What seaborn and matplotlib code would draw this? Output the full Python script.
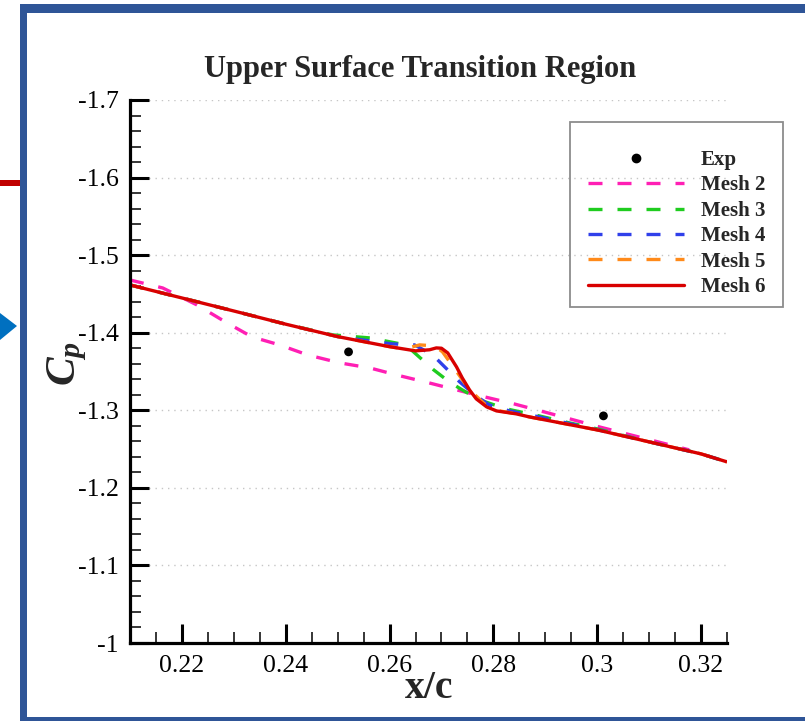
import numpy as np
import pandas as pd
import matplotlib
matplotlib.use("Agg")
import matplotlib.pyplot as plt
import seaborn as sns
from matplotlib.ticker import MultipleLocator
from matplotlib.patches import Rectangle, Polygon
from matplotlib.lines import Line2D

# ---------------- data ----------------
x_exp = [0.2521, 0.3012]
y_exp = [-1.3753, -1.2928]

x_mesh2 = [0.210, 0.2163, 0.2229, 0.2287, 0.2335, 0.2388, 0.2442, 0.2504, 0.2562, 0.2613,
           0.2672, 0.2729, 0.2783, 0.2840, 0.2898, 0.3004, 0.3117, 0.3177]
y_mesh2 = [-1.468, -1.4577, -1.4358, -1.4126, -1.3946, -1.3843, -1.3714, -1.3611, -1.3546, -1.3456,
           -1.3360, -1.3263, -1.3173, -1.3082, -1.2979, -1.2786, -1.2593, -1.2490]

x_mesh3 = [0.210, 0.220, 0.230, 0.240, 0.249, 0.2562, 0.2631, 0.2685, 0.2715, 0.2740,
           0.2773, 0.2825, 0.2888, 0.2946, 0.300, 0.310, 0.320, 0.325]
y_mesh3 = [-1.4616, -1.4448, -1.428, -1.411, -1.3972, -1.3933, -1.3843, -1.3521, -1.3366, -1.3263,
           -1.3134, -1.3018, -1.2928, -1.2838, -1.2760, -1.2593, -1.2438, -1.2335]

x_mesh4 = [0.210, 0.220, 0.230, 0.240, 0.250, 0.2604, 0.2648, 0.2683, 0.2710, 0.2735,
           0.2769, 0.2792, 0.2831, 0.2888, 0.300, 0.310, 0.320, 0.325]
y_mesh4 = [-1.4616, -1.4448, -1.428, -1.411, -1.395, -1.3856, -1.3843, -1.3714, -1.3534, -1.3366,
           -1.3173, -1.3070, -1.2992, -1.2915, -1.2750, -1.2593, -1.2438, -1.2335]

x_mesh5 = [0.210, 0.220, 0.230, 0.240, 0.250, 0.260, 0.2629, 0.2658, 0.2687, 0.2702,
           0.2731, 0.2754, 0.2783, 0.2812, 0.2844, 0.2869, 0.300, 0.310, 0.320, 0.325]
y_mesh5 = [-1.4616, -1.4448, -1.428, -1.411, -1.395, -1.382, -1.3791, -1.3843, -1.3830, -1.3753,
           -1.3482, -1.3263, -1.3082, -1.2992, -1.2954, -1.2915, -1.2747, -1.2593, -1.2438, -1.2335]

x_mesh6 = [0.210, 0.220, 0.230, 0.240, 0.250, 0.260, 0.265, 0.2677, 0.2690, 0.2700, 0.2712,
           0.2729, 0.2740, 0.2754, 0.2767, 0.2787, 0.2806, 0.2844, 0.2869, 0.300, 0.310, 0.320, 0.325]
y_mesh6 = [-1.4616, -1.4448, -1.428, -1.411, -1.395, -1.382, -1.3766, -1.378, -1.3804, -1.3800, -1.374,
           -1.3559, -1.3418, -1.3263, -1.3147, -1.3044, -1.2992, -1.2954, -1.2915, -1.2747, -1.2593, -1.2438, -1.2335]

series_names = ["Mesh 2", "Mesh 3", "Mesh 4", "Mesh 5", "Mesh 6"]
series_colors = ["#ff1fb4", "#1fcc1f", "#3040ea", "#ff8a1a", "#d80000"]

x_ticks = [0.22, 0.24, 0.26, 0.28, 0.30, 0.32]
x_tick_labels = ["0.22", "0.24", "0.26", "0.28", "0.3", "0.32"]
y_ticks = [-1.7, -1.6, -1.5, -1.4, -1.3, -1.2, -1.1, -1.0]
y_tick_labels = ["-1.7", "-1.6", "-1.5", "-1.4", "-1.3", "-1.2", "-1.1", "-1"]

title_text = "Upper Surface Transition Region"

# ---------------- style ----------------
sns.set_theme(style="white")
plt.rcParams["font.family"] = ["Liberation Serif", "DejaVu Serif"]
plt.rcParams["axes.unicode_minus"] = False
plt.rcParams["mathtext.fontset"] = "custom"
plt.rcParams["mathtext.it"] = "Liberation Serif:bold:italic"
plt.rcParams["mathtext.rm"] = "Liberation Serif:bold"

W, H = 805, 721
fig = plt.figure(figsize=(W / 100, H / 100), dpi=100)
fig.patch.set_facecolor("white")


def fx(px):
    return px / W


def fy(py):
    return 1 - py / H


DASH = (4.2, 4.5)

ax = fig.add_axes([fx(130), fy(643), fx(727) - fx(130), fy(100) - fy(643)])
ax.set_facecolor("white")

xs = [x_mesh2, x_mesh3, x_mesh4, x_mesh5, x_mesh6]
ys = [y_mesh2, y_mesh3, y_mesh4, y_mesh5, y_mesh6]
for name, col, xv, yv in zip(series_names, series_colors, xs, ys):
    df = pd.DataFrame({"x": xv, "y": yv})
    sns.lineplot(data=df, x="x", y="y", ax=ax, sort=False, estimator=None,
                 color=col, lw=2.4, legend=False)
    ln = ax.lines[-1]
    if name != "Mesh 6":
        ln.set_dashes(DASH)
    ln.set_solid_capstyle("butt")
    ln.set_dash_capstyle("butt")

df_exp = pd.DataFrame({"x": x_exp, "y": y_exp})
sns.scatterplot(data=df_exp, x="x", y="y", ax=ax, color="black", s=40,
                edgecolor="none", zorder=5, legend=False)

ax.set_xlim(0.21, 0.325)
ax.set_ylim(-1.0, -1.7)
ax.set_xticks(x_ticks)
ax.set_xticklabels(x_tick_labels)
ax.set_yticks(y_ticks)
ax.set_yticklabels(y_tick_labels)
ax.xaxis.set_minor_locator(MultipleLocator(0.005))
ax.yaxis.set_minor_locator(MultipleLocator(0.02))
ax.tick_params(which="major", direction="in", length=14, width=2.2,
               labelsize=18.5, pad=8, colors="black", left=True, bottom=True)
ax.tick_params(which="minor", direction="in", length=8, width=1.3,
               left=True, bottom=True)
ax.tick_params(axis="x", which="major", pad=9)
ax.set_xlabel("")
ax.set_ylabel("")

ax.yaxis.grid(True, which="major", linestyle=(0, (1, 3.5)), color="#c6c6c6", lw=1.0)
ax.xaxis.grid(False)
ax.set_axisbelow(True)

for s in ["top", "right"]:
    ax.spines[s].set_visible(False)
for s in ["left", "bottom"]:
    ax.spines[s].set_color("black")
    ax.spines[s].set_linewidth(2.3)

# titles / labels
fig.text(fx(420), fy(69), title_text, ha="center", va="center",
         fontsize=22, fontweight="bold")
fig.text(fx(429), fy(689), "x/c", ha="center", va="center",
         fontsize=28.5, fontweight="bold")
fig.text(fx(67), fy(364), r"$C_p$", ha="center", va="center",
         fontsize=31, rotation=90)

# legend
handles = [Line2D([], [], marker="o", color="black", linestyle="none", markersize=6)]
for name, col in zip(series_names, series_colors):
    h = Line2D([], [], color=col, lw=2.4)
    if name != "Mesh 6":
        h.set_dashes(DASH)
    handles.append(h)
labels = ["Exp"] + series_names
leg = fig.legend(handles, labels, loc="upper left",
                 bbox_to_anchor=(fx(588), fy(150)), frameon=False,
                 borderpad=0, borderaxespad=0, handlelength=4.6, handletextpad=0.8,
                 labelspacing=0.26, numpoints=1,
                 prop={"family": "Liberation Serif", "weight": "bold", "size": 15})
fig.patches.append(Rectangle((fx(570), fy(307)), fx(783) - fx(570), fy(122) - fy(307),
                             transform=fig.transFigure, fill=False,
                             edgecolor="#8c8c8c", lw=1.3, zorder=3))

# slide decorations
blue = "#2f5597"
fig.patches.append(Rectangle((fx(20), fy(721)), fx(7), fy(4) - fy(721),
                             transform=fig.transFigure, color=blue, lw=0, zorder=10))
fig.patches.append(Rectangle((fx(20), fy(13)), fx(805) - fx(20), fy(4) - fy(13),
                             transform=fig.transFigure, color=blue, lw=0, zorder=10))
fig.patches.append(Rectangle((fx(20), fy(721)), fx(805) - fx(20), fy(717) - fy(721),
                             transform=fig.transFigure, color=blue, lw=0, zorder=10))
fig.patches.append(Rectangle((fx(0), fy(186)), fx(20), fy(180) - fy(186),
                             transform=fig.transFigure, color="#c00000", lw=0, zorder=10))
fig.patches.append(Polygon([(fx(0), fy(313)), (fx(17), fy(326)), (fx(0), fy(340))],
                           closed=True, transform=fig.transFigure,
                           color="#0070c0", lw=0, zorder=10))

fig.savefig("out.png", dpi=100, facecolor="white")
